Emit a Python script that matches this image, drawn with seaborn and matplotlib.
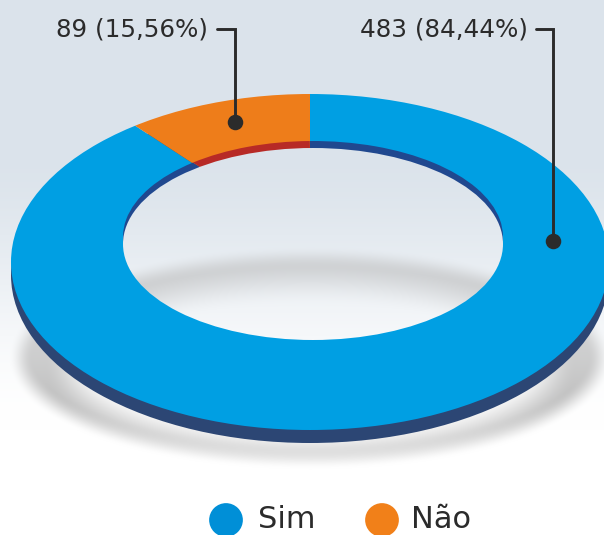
import numpy as np
import matplotlib
matplotlib.use('Agg')
import matplotlib.pyplot as plt
from matplotlib.patches import Ellipse, Circle
import seaborn as sns

categories = ['Sim', 'Não']
counts = [483, 89]
labels = ['483 (84,44%)', '89 (15,56%)']
# the drawn slice is narrower than its label says: shares
face_shares = [88.7, 11.3]
rim_shares = [89.4, 10.6]

face_colors = ['#009fe3', '#ee7d1a']
rim_colors = ['#20488f', '#b72a26']
legend_colors = ['#008fd7', '#f18019']
side_color = '#2c4674'
ink = '#2b2b2b'

W, H = 604, 535

sns.set_theme(style='white')
plt.rcParams['font.family'] = ['DejaVu Sans']


def px_axes(x0, y0, x1, y1, z):
    ax = fig.add_axes([x0 / W, 1 - y1 / H, (x1 - x0) / W, (y1 - y0) / H], zorder=z)
    ax.patch.set_alpha(0)
    return ax


def smooth(a, b, v):
    t = np.clip((v - a) / (b - a), 0, 1)
    return t * t * (3 - 2 * t)


def edge_dist(x, y, cx, cy, rx, ry):
    # rough signed pixel distance to an ellipse edge
    r = np.sqrt(((x - cx) / rx) ** 2 + ((y - cy) / ry) ** 2) + 1e-6
    g = np.sqrt(((x - cx) / rx ** 2) ** 2 + ((y - cy) / ry ** 2) ** 2) / r + 1e-6
    return (r - 1) / g


# ── background + soft shadow ──────────────────────────────────────────────────

yy, xx = np.mgrid[0:H, 0:W]
top = np.array([219, 227, 235]) / 255
fade = smooth(140, 430, yy)[..., None]
bg = top * (1 - fade) + fade

outer = 1 - smooth(-12, 12, edge_dist(xx, yy, 310, 357, 290, 100))
inner = smooth(-26, 26, edge_dist(xx, yy, 310, 365, 240, 85))
shadow = outer * inner * (0.62 + 0.38 * smooth(330, 440, yy))
shadow = shadow[..., None]
bg = bg * (1 - shadow) + np.array([184, 184, 184]) / 255 * shadow

fig = plt.figure(figsize=(W / 100, H / 100), dpi=100)

ax_bg = px_axes(0, 0, W, H, 0)
ax_bg.imshow(bg, extent=(0, W, H, 0), aspect='auto')
ax_bg.add_patch(Ellipse((310, 275), 598, 336, color=side_color, lw=0))
ax_bg.set_xlim(0, W); ax_bg.set_ylim(H, 0)
ax_bg.axis('off')

# ── ring face and inner rim ───────────────────────────────────────────────────

# the slices meet above the ellipse centre (perspective), so oversize the pie
# and clip it back to the outer edge
ax_face = px_axes(11, 94, 609, 430, 1)
wedges, _ = ax_face.pie(face_shares, colors=face_colors, startangle=90, counterclock=False,
                        center=(0, 0.131), radius=2, wedgeprops={'linewidth': 0})
ax_face.set_aspect('auto')
ax_face.set_xlim(-1, 1); ax_face.set_ylim(-1, 1)
for w in wedges:
    w.set_clip_on(True)
    w.set_clip_path(Circle((0, 0), 1, transform=ax_face.transData))

ax_rim = px_axes(123, 141, 503, 333, 2)
ax_rim.pie(rim_shares, colors=rim_colors, startangle=91, counterclock=False,
           radius=1, wedgeprops={'linewidth': 0})
ax_rim.set_aspect('auto')
ax_rim.set_xlim(-1, 1); ax_rim.set_ylim(-1, 1)

ax_hole = px_axes(0, 0, W, H, 3)
img = ax_hole.imshow(bg, extent=(0, W, H, 0), aspect='auto')
hole = Ellipse((313, 244), 380, 192, transform=ax_hole.transData, fc='none', lw=0)
ax_hole.add_patch(hole)
img.set_clip_path(hole)
ax_hole.set_xlim(0, W); ax_hole.set_ylim(H, 0)
ax_hole.axis('off')

# ── callouts and legend ───────────────────────────────────────────────────────

ax = px_axes(0, 0, W, H, 4)
ax.plot([536, 553, 553], [29, 29, 241], color=ink, lw=2.1, solid_joinstyle='miter')
ax.plot([217, 235, 235], [29, 29, 122], color=ink, lw=2.1, solid_joinstyle='miter')
sns.scatterplot(x=[553, 235], y=[241, 122], color=ink, s=125, linewidth=0, ax=ax)
ax.text(528, 29, labels[0], ha='right', va='center', fontsize=17.7, color=ink)
ax.text(208, 29, labels[1], ha='right', va='center', fontsize=17.7, color=ink)

sns.scatterplot(x=[226, 382], y=[520, 520], hue=categories, palette=legend_colors,
                s=590, linewidth=0, legend=False, clip_on=False, ax=ax)
ax.text(258, 520, categories[0], ha='left', va='center', fontsize=22, color=ink)
ax.text(411, 520, categories[1], ha='left', va='center', fontsize=22, color=ink)
ax.set_xlim(0, W); ax.set_ylim(H, 0)
ax.axis('off')

plt.savefig('out.png', dpi=100)
plt.close()
